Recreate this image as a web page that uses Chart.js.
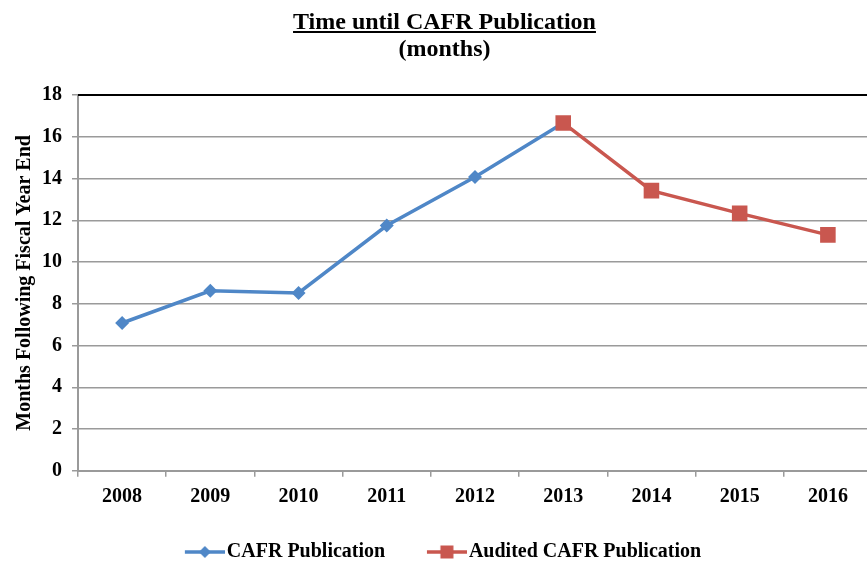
<!DOCTYPE html>
<html>
<head>
<meta charset="utf-8">
<script src="https://cdn.jsdelivr.net/npm/chart.js@4.4.1/dist/chart.umd.min.js"></script>
<style>
html, body { margin: 0; padding: 0; background: #fff; overflow: hidden; }
#wrap { position: relative; width: 867px; height: 561px; overflow: hidden; }
#chart { position: absolute; left: 0; top: 0; }
#title {
    position: absolute; left: 0; top: 8px; width: 889px; text-align: center;
    font: bold 24px "Liberation Serif", "Times New Roman", serif; line-height: 27px; color: #000;
}
#title u { text-decoration-thickness: 2px; text-underline-offset: 2px; }
</style>
</head>
<body>
<div id="wrap">
    <canvas id="chart" width="872" height="572"></canvas>
    <div id="title"><u>Time until CAFR Publication</u><br>(months)</div>
</div>
<script>
// chart data
const years = ["2008", "2009", "2010", "2011", "2012", "2013", "2014", "2015", "2016"];
const cafrValues = [7.08, 8.62, 8.52, 11.75, 14.07, 16.66, null, null, null];
const auditedValues = [null, null, null, null, null, 16.66, 13.42, 12.33, 11.3];
const yTicks = [0, 2, 4, 6, 8, 10, 12, 14, 16, 18];

const blue = "#4f87c7";
const red = "#c9574f";

// legend pictures: line + marker sitting at the right end, just before the text
const boxW = 46;
function legendIcon(color, shape) {
    const c = document.createElement("canvas");
    c.width = boxW + 16;
    c.height = 16;
    const g = c.getContext("2d");
    const x0 = c.width - 40;
    g.strokeStyle = color;
    g.lineWidth = 3.5;
    g.beginPath();
    g.moveTo(x0, 8);
    g.lineTo(c.width, 8);
    g.stroke();
    g.fillStyle = color;
    g.beginPath();
    const cx = x0 + 20;
    if (shape === "diamond") {
        g.moveTo(cx, 2);
        g.lineTo(cx + 6, 8);
        g.lineTo(cx, 14);
        g.lineTo(cx - 6, 8);
        g.closePath();
    } else {
        g.rect(cx - 6.5, 1.5, 13, 13);
    }
    g.fill();
    return c;
}
const icons = [legendIcon(blue, "diamond"), legendIcon(red, "square")];

// black border along the top of the plot area
const topBorder = {
    id: "topBorder",
    beforeDatasetsDraw(chart) {
        const { ctx, chartArea } = chart;
        ctx.save();
        ctx.strokeStyle = "#000";
        ctx.lineWidth = 2;
        ctx.beginPath();
        ctx.moveTo(chartArea.left, chartArea.top);
        ctx.lineTo(chartArea.right, chartArea.top);
        ctx.stroke();
        ctx.restore();
    },
};

Chart.defaults.font.family = '"Liberation Serif", "Times New Roman", serif';
Chart.defaults.font.weight = "bold";
Chart.defaults.font.size = 20;
Chart.defaults.color = "#000";

new Chart(document.getElementById("chart"), {
    type: "line",
    data: {
        labels: years,
        datasets: [
            {
                label: "CAFR Publication",
                data: cafrValues,
                borderColor: blue,
                backgroundColor: blue,
                borderWidth: 3.5,
                pointStyle: "rectRot",
                pointRadius: 7,
                pointBorderWidth: 0,
                tension: 0,
                order: 1,
            },
            {
                label: "Audited CAFR Publication",
                data: auditedValues,
                borderColor: red,
                backgroundColor: red,
                borderWidth: 3.5,
                pointStyle: "rect",
                pointRadius: 11,
                pointBorderWidth: 0,
                tension: 0,
                order: 0,
            },
        ],
    },
    options: {
        responsive: false,
        animation: false,
        layout: { autoPadding: false, padding: { left: 0, right: 0, top: 95, bottom: 0 } },
        plugins: {
            title: { display: false },
            tooltip: { enabled: false },
            legend: {
                position: "bottom",
                labels: {
                    usePointStyle: true,
                    pointStyleWidth: boxW,
                    padding: 27.7,
                    font: { size: 20, weight: "bold" },
                    generateLabels: (chart) =>
                        chart.data.datasets.map((ds, i) => ({
                            text: ds.label,
                            pointStyle: icons[i],
                            fillStyle: ds.borderColor,
                            strokeStyle: ds.borderColor,
                            lineWidth: 0,
                            fontColor: "#000",
                            hidden: !chart.isDatasetVisible(i),
                            datasetIndex: i,
                        })),
                },
            },
        },
        scales: {
            x: {
                offset: true,
                grid: {
                    offset: true,
                    drawOnChartArea: false,
                    tickLength: 6,
                    color: "#9a9a9a",
                    lineWidth: 1.5,
                },
                border: { color: "#9a9a9a", width: 2 },
                ticks: { padding: 8, font: { size: 20, weight: "bold" }, maxRotation: 0 },
                afterFit: (s) => {
                    s.height = 43.5;
                    s.paddingLeft = 0;
                    s.paddingRight = 0;
                },
            },
            y: {
                min: 0,
                max: 18,
                afterBuildTicks: (s) => { s.ticks = yTicks.map((v) => ({ value: v })); },
                grid: { color: "#9a9a9a", lineWidth: 1.5, tickLength: 6 },
                border: { color: "#9a9a9a", width: 2 },
                ticks: { padding: 10, font: { size: 20, weight: "bold" } },
                title: {
                    display: true,
                    text: "Months Following Fiscal Year End",
                    font: { size: 20, weight: "bold" },
                    padding: { top: 13, bottom: 0 },
                },
                afterFit: (s) => { s.width = 78; },
            },
        },
    },
    plugins: [topBorder],
});
</script>
</body>
</html>
